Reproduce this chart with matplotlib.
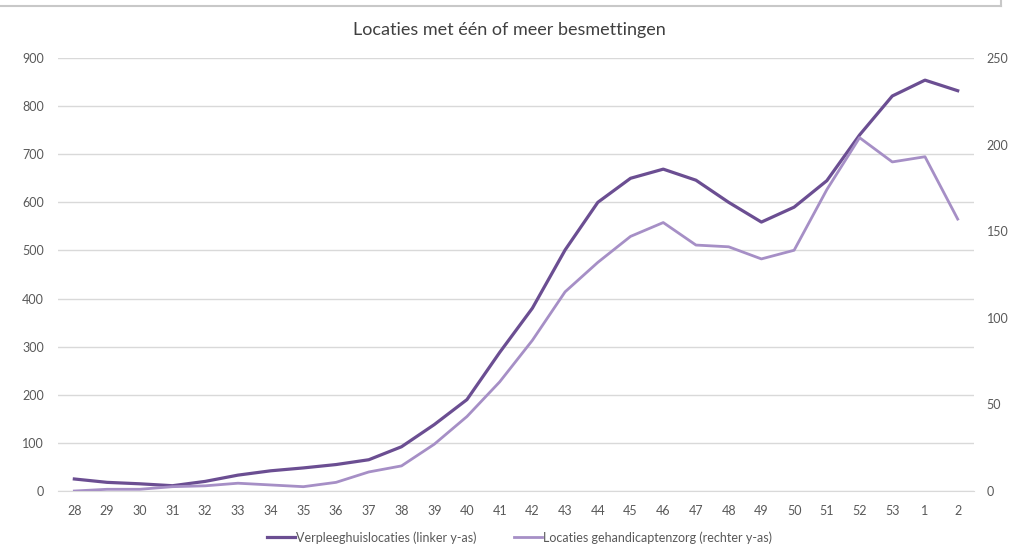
import matplotlib.pyplot as plt

weeks = ['28', '29', '30', '31', '32', '33', '34', '35', '36', '37', '38', '39', '40', '41',
         '42', '43', '44', '45', '46', '47', '48', '49', '50', '51', '52', '53', '1', '2']
verpleeghuis = [25, 18, 15, 11, 20, 33, 42, 48, 55, 65, 92, 138, 190, 288,
                380, 501, 600, 650, 669, 646, 600, 559, 590, 645, 740, 821, 854, 832]
gehandicapt = [0, 1, 1, 2.5, 3, 4.5, 3.5, 2.5, 5, 11, 14.5, 27, 43, 63,
               87, 115, 132, 147, 155, 142, 141, 134, 139, 174, 204, 190, 193, 157]

plt.rcParams['font.family'] = ['Lato', 'DejaVu Sans']
grey = '#595959'
dark = '#6b4e92'
light = '#a68fc6'

fig = plt.figure(figsize=(10.19, 5.54), dpi=100)
ax = fig.add_axes([0.0569, 0.1137, 0.899, 0.7816])
ax2 = ax.twinx()

x = list(range(len(weeks)))
ax.plot(x, verpleeghuis, color=dark, lw=2.3, label='Verpleeghuislocaties (linker y-as)', zorder=3)
ax2.plot(x, gehandicapt, color=light, lw=2.0, label='Locaties gehandicaptenzorg (rechter y-as)', zorder=2)

ax.set_xlim(-0.5, len(weeks) - 0.5)
ax.set_ylim(0, 900)
ax.set_yticks(range(0, 901, 100))
ax2.set_ylim(0, 250)
ax2.set_yticks(range(0, 251, 50))
ax.set_xticks(x)
ax.set_xticklabels(weeks)

ax.grid(axis='y', color='#d9d9d9', lw=1)
ax.set_axisbelow(True)
for a in (ax, ax2):
    for s in a.spines.values():
        s.set_visible(False)
    a.tick_params(length=0, colors=grey, labelsize=9)
ax.spines['bottom'].set_visible(True)
ax.spines['bottom'].set_color('#d9d9d9')
ax.tick_params(axis='x', pad=10)
ax.tick_params(axis='y', pad=10)
ax2.tick_params(axis='y', pad=9)

fig.suptitle('Locaties met één of meer besmettingen', y=0.96, fontsize=13, color='#404040')

h1, l1 = ax.get_legend_handles_labels()
h2, l2 = ax2.get_legend_handles_labels()
fig.legend(h1 + h2, l1 + l2, loc='center', bbox_to_anchor=(0.51, 0.03), ncol=2,
           frameon=False, fontsize=9, labelcolor=grey, handlelength=2.2,
           handletextpad=0.1, columnspacing=3.0)

fig.add_artist(plt.Line2D([0, 0.982], [0.99, 0.99], color='#c8c8c8', lw=1.5))
fig.add_artist(plt.Line2D([0.982, 0.982], [0.99, 1.0], color='#c8c8c8', lw=1.5))

fig.savefig('out.png', dpi=100)
